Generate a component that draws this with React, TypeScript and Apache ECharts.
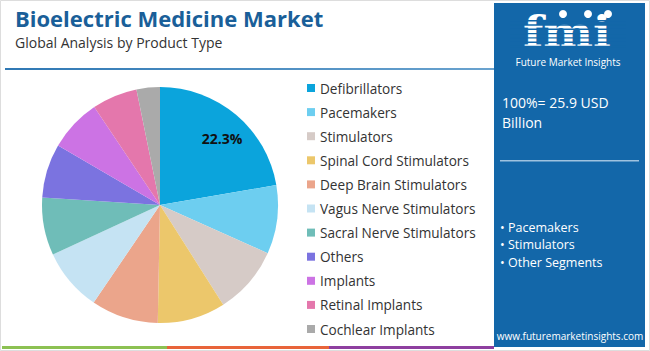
import React, { useEffect, useRef } from "react";
import * as echarts from "echarts";

const categories = [
  "Defibrillators",
  "Pacemakers",
  "Stimulators",
  "Spinal Cord Stimulators",
  "Deep Brain Stimulators",
  "Vagus Nerve Stimulators",
  "Sacral Nerve Stimulators",
  "Others",
  "Implants",
  "Retinal Implants",
  "Cochlear Implants",
];
const shares = [22.3, 9.4, 9.3, 9.3, 9.2, 8.6, 7.9, 7.4, 7.2, 6.2, 3.2];
const colors = [
  "#0ba4dc",
  "#6dcef0",
  "#d6cbc7",
  "#ecc76b",
  "#eba58b",
  "#c5e3f3",
  "#6fbdb8",
  "#7b73e0",
  "#cc73e4",
  "#e477ac",
  "#aaaaaa",
];
const titleText = "Bioelectric Medicine Market";
const subtitleText = "Global Analysis by Product Type";
const totalLines = ["100%= 25.9 USD", "Billion"];
const bullets = ["• Pacemakers", "• Stimulators", "• Other Segments"];
const website = "www.futuremarketinsights.com";

const FONT = "'Open Sans', 'Noto Sans', sans-serif";
const PANEL = "#1367a9";

export default function App() {
  const ref = useRef<HTMLDivElement>(null);
  useEffect(() => {
    document.body.style.margin = "0";
    if (!ref.current) return;
    const chart = echarts.init(ref.current, undefined, { renderer: "svg" });

    const stripes: any[] = [];
    for (let i = 0; i < 7; i++) {
      stripes.push({
        type: "rect",
        shape: { x: 510, y: 20 + i * 4.3, width: 116, height: 1.4 },
        style: { fill: PANEL },
        z: 20,
      });
    }

    chart.setOption({
      animation: false,
      color: colors,
      title: {
        text: titleText,
        subtext: subtitleText,
        left: 10,
        top: 2,
        itemGap: 6,
        textStyle: { fontFamily: FONT, fontSize: 22, fontWeight: "bold", color: "#1a5f99" },
        subtextStyle: { fontFamily: FONT, fontSize: 14, color: "#333333" },
      },
      legend: {
        orient: "vertical",
        left: 302,
        top: 76,
        itemWidth: 8,
        itemHeight: 8,
        itemGap: 10.1,
        icon: "rect",
        textStyle: { fontFamily: FONT, fontSize: 13.6, color: "#333333", lineHeight: 14, padding: [0, 0, 0, 0] },
        data: categories,
      },
      series: [
        {
          type: "pie",
          center: [160, 205],
          radius: [0, 118],
          startAngle: 90,
          clockwise: true,
          silent: true,
          data: categories.map((c, i) => ({ name: c, value: shares[i] })),
          label: {
            show: true,
            position: "inside",
            fontFamily: FONT,
            fontSize: 14,
            fontWeight: "bold",
            color: "#111111",
            formatter: (p: any) => (p.dataIndex === 0 ? p.value.toFixed(1) + "%" : ""),
          },
          labelLayout: (p: any) => (p.dataIndex === 0 ? { dx: 22, dy: -19 } : {}),
          labelLine: { show: false },
        },
      ],
      graphic: [
        { type: "rect", shape: { x: 0.5, y: 0.5, width: 649, height: 350 }, style: { fill: "none", stroke: "#dddddd", lineWidth: 1 }, z: 0 },
        {
          type: "rect",
          shape: { x: 5, y: 68, width: 489, height: 2 },
          style: {
            fill: new echarts.graphic.LinearGradient(0, 0, 1, 0, [
              { offset: 0, color: "#2f78b4" },
              { offset: 1, color: "#6aa3cf" },
            ]),
          },
        },
        { type: "rect", shape: { x: 494, y: 3, width: 151, height: 344 }, style: { fill: PANEL }, z: 5 },
        { type: "rect", shape: { x: 2, y: 346, width: 165, height: 3 }, style: { fill: "#8cc152" } },
        { type: "rect", shape: { x: 167, y: 346, width: 162, height: 3 }, style: { fill: "#e8643a" } },
        { type: "rect", shape: { x: 329, y: 346, width: 165, height: 3 }, style: { fill: "#8e3fa0" } },
        {
          type: "text",
          x: 567,
          y: 32,
          scaleX: 1.12,
          style: {
            text: "fmi",
            fontFamily: "'DejaVu Serif', serif",
            fontSize: 42,
            lineHeight: 36,
            fontWeight: "bold",
            fill: "#ffffff",
            align: "center",
            verticalAlign: "middle",
          },
          z: 10,
        },
        ...stripes,
        { type: "circle", shape: { cx: 563, cy: 14, r: 4 }, style: { fill: "#ffffff" }, z: 21 },
        { type: "circle", shape: { cx: 588, cy: 14, r: 4 }, style: { fill: "#ffffff" }, z: 21 },
        { type: "circle", shape: { cx: 608, cy: 14, r: 4 }, style: { fill: "#ffffff" }, z: 21 },
        {
          type: "text",
          x: 568,
          y: 62,
          style: { text: "Future Market Insights", fontFamily: FONT, fontSize: 10, fill: "#ffffff", align: "center", verticalAlign: "middle" },
          z: 10,
        },
        {
          type: "text",
          x: 502,
          y: 102,
          style: { text: totalLines[0], fontFamily: FONT, fontSize: 14, fill: "#ffffff", verticalAlign: "middle" },
          z: 10,
        },
        {
          type: "text",
          x: 502,
          y: 122,
          style: { text: totalLines[1], fontFamily: FONT, fontSize: 14, fill: "#ffffff", verticalAlign: "middle" },
          z: 10,
        },
        { type: "rect", shape: { x: 500, y: 160, width: 139, height: 1.5 }, style: { fill: "#9fc3e0" }, z: 10 },
        ...bullets.map((b, i) => ({
          type: "text",
          x: 500,
          y: 227 + i * 17.5,
          style: { text: b, fontFamily: FONT, fontSize: 12.5, fill: "#ffffff", verticalAlign: "middle" },
          z: 10,
        })),
        {
          type: "text",
          x: 570,
          y: 336,
          style: { text: website, fontFamily: FONT, fontSize: 10, fill: "#ffffff", align: "center", verticalAlign: "middle" },
          z: 10,
        },
      ],
    });
    return () => chart.dispose();
  }, []);
  return <div ref={ref} style={{ width: 650, height: 351 }} />;
}
